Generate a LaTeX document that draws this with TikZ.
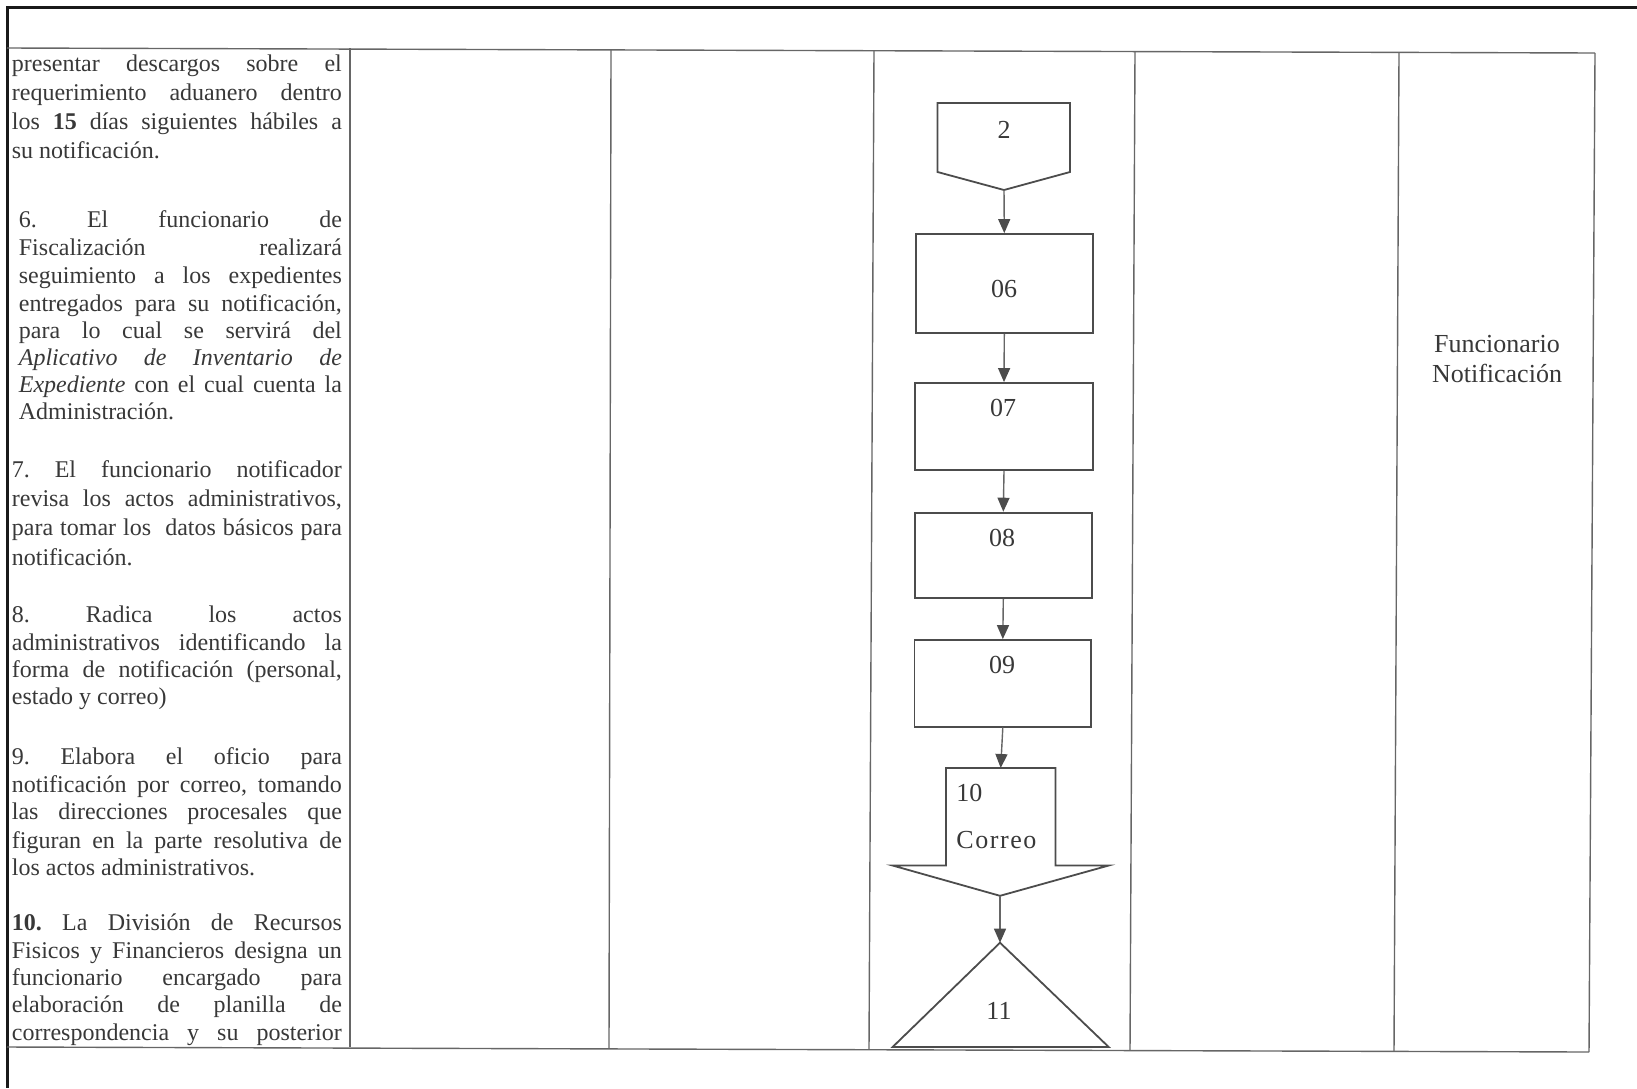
\documentclass[tikz,border=0pt]{standalone}
\usepackage{fontspec}
\setmainfont{Liberation Serif}
\usetikzlibrary{arrows.meta}
\newcommand\JL[1]{\makebox[165pt][s]{#1}}
\newcommand\JLb[1]{\makebox[161.5pt][s]{#1}}
\begin{document}
\frenchspacing
\begin{tikzpicture}[x=0.5pt,y=-0.5pt,
  frame/.style={line width=1.5pt, draw=black!90},
  grid/.style={line width=0.7pt, draw=black!60},
  box/.style={draw=black!70, line width=0.9pt, minimum width=88.7pt, inner sep=0pt},
  shp/.style={draw=black!70, line width=0.9pt, line join=miter},
  arr/.style={draw=black!60, line width=0.7pt, -{Triangle[width=6pt,length=7pt,color=black!70]}},
  txt/.style={anchor=mid west, inner sep=0pt, font=\fontsize{12}{14}\selectfont, text=black!78},
  lab/.style={inner sep=0pt, font=\fontsize{13}{15}\selectfont, text=black!78}]
\useasboundingbox (0,0) rectangle (1637,1088);
% outer frame
\draw[frame] (1637,7) -- (7,7) -- (7,1088);
% table
\draw[grid] (7,48) -- (1595,53);
\draw[grid] (7,1047) -- (1589,1052);
\draw[grid] (350,48) -- (350,1047);
\draw[grid] (611,49) -- (609,1048);
\draw[grid] (874,50) -- (869,1049);
\draw[grid] (1135,51) -- (1130,1050);
\draw[grid] (1399,52) -- (1394,1051);
\draw[grid] (1595,53) -- (1589,1052);
% left column text
\node[txt] (p1a) at (11.5,66.6) {\JL{presentar descargos sobre el}};
\node[txt] (p1b) at (11.5,95.9) {\JL{requerimiento aduanero dentro}};
\node[txt] (p1c) at (11.5,125.1) {\JL{los \textbf{15} días siguientes hábiles a}};
\node[txt] (p1d) at (11.5,154.3) {su notificación.};
\node[txt] (p2a) at (18.5,223.2) {\JLb{6. El funcionario de}};
\node[txt] (p2b) at (18.5,251.4) {\JLb{Fiscalización realizará}};
\node[txt] (p2c) at (18.5,278.6) {\JLb{seguimiento a los expedientes}};
\node[txt] (p2d) at (18.5,306.8) {\JLb{entregados para su notificación,}};
\node[txt] (p2e) at (18.5,333.9) {\JLb{para lo cual se servirá del}};
\node[txt] (p2f) at (18.5,361.0) {\JLb{\textit{Aplicativo} \textit{de} \textit{Inventario} \textit{de}}};
\node[txt] (p2g) at (18.5,388.2) {\JLb{\textit{Expediente} con el cual cuenta la}};
\node[txt] (p2h) at (18.5,415.3) {Administración.};
\node[txt] (p3a) at (11.5,472.8) {\JL{7. El funcionario notificador}};
\node[txt] (p3b) at (11.5,502.0) {\JL{revisa los actos administrativos,}};
\node[txt] (p3c) at (11.5,531.2) {\JL{para tomar los \ datos básicos para}};
\node[txt] (p3d) at (11.5,560.5) {notificación.};
\node[txt] (p4a) at (11.5,617.9) {\JL{8. Radica los actos}};
\node[txt] (p4b) at (11.5,646.1) {\JL{administrativos identificando la}};
\node[txt] (p4c) at (11.5,673.2) {\JL{forma de notificación (personal,}};
\node[txt] (p4d) at (11.5,700.3) {estado y correo)};
\node[txt] (p5a) at (11.5,759.9) {\JL{9. Elabora el oficio para}};
\node[txt] (p5b) at (11.5,788.0) {\JL{notificación por correo, tomando}};
\node[txt] (p5c) at (11.5,815.2) {\JL{las direcciones procesales que}};
\node[txt] (p5d) at (11.5,843.4) {\JL{figuran en la parte resolutiva de}};
\node[txt] (p5e) at (11.5,870.5) {los actos administrativos.};
\node[txt] (p6a) at (11.5,925.9) {\JL{\textbf{10.} La División de Recursos}};
\node[txt] (p6b) at (11.5,954.0) {\JL{Fisicos y Financieros designa un}};
\node[txt] (p6c) at (11.5,981.2) {\JL{funcionario encargado para}};
\node[txt] (p6d) at (11.5,1008.3) {\JL{elaboración de planilla de}};
\node[txt] (p6e) at (11.5,1035.5) {\JL{correspondencia y su posterior}};
% role label
\node[lab, align=center] (rol) at (1497,359) {Funcionario\\Notificación};
% flowchart
\draw[shp] (937.5,103) -- (1070,103) -- (1070,172) -- (1004,190) -- (937.5,172) -- cycle;
\coordinate (c2) at (1004,190);
\node[lab] (t2) at (1004,129.5) {2};
\node[box, minimum height=49.5pt] (b06) at (1004.3,283.5) {};
\node[lab] (t06) at (1004,289) {06};
\node[box, minimum height=43.5pt] (b07) at (1004,426.5) {};
\node[lab] (t07) at (1003,408) {07};
\node[box, minimum height=42.7pt] (b08) at (1003.3,555.3) {};
\node[lab] (t08) at (1002,537.7) {08};
\node[box, minimum height=43.3pt, minimum width=88.3pt] (b09) at (1002.8,683.3) {};
\node[lab] (t09) at (1002,665) {09};
\draw[shp] (946,768) -- (1055.5,768) -- (1055.5,865.5) -- (1108.7,865.5) -- (1000,895.8) -- (892.6,865.5) -- (946,865.5) -- cycle;
\coordinate (s10t) at (1000.7,768);
\coordinate (s10b) at (1000,895.8);
\node[lab, anchor=west] (t10a) at (956,793.4) {10};
\node[lab, anchor=west] (t10b) at (956,840.4) {\addfontfeature{LetterSpace=6}Correo};
\draw[shp] (1000,942.7) -- (1108.7,1047) -- (892.6,1047) -- cycle;
\coordinate (s11) at (1000,942.7);
\node[lab] (t11) at (999,1010.6) {11};
% connectors
\draw[arr] (c2) -- (b06.north);
\draw[arr] (b06.south) -- (b07.north);
\draw[arr] (b07.south) -- (b08.north);
\draw[arr] (b08.south) -- (b09.north);
\draw[arr] (b09.south) -- (s10t);
\draw[arr] (s10b) -- (s11);
\end{tikzpicture}
\end{document}
